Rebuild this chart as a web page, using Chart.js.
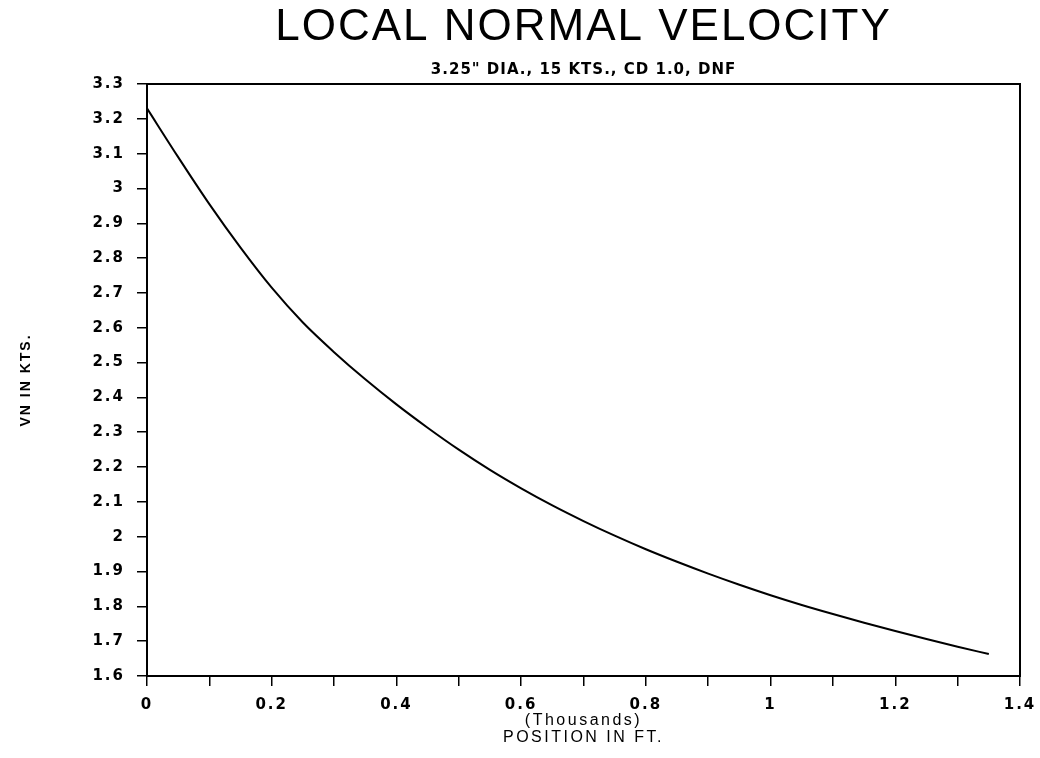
<!DOCTYPE html>
<html>
<head>
<meta charset="utf-8">
<script src="https://cdn.jsdelivr.net/npm/chart.js@4.4.1/dist/chart.umd.min.js"></script>
<style>
  html, body { margin: 0; padding: 0; background: #fff; }
  #wrap { width: 1040px; height: 758px; }
</style>
</head>
<body>
<div id="wrap"><canvas id="c" width="1040" height="758"></canvas></div>
<script>
// Data
const positionThousandsFt = [0.00, 0.05, 0.10, 0.15, 0.20, 0.25, 0.30, 0.35, 0.40, 0.45, 0.50, 0.55, 0.60, 0.65, 0.70, 0.75, 0.80, 0.85, 0.90, 0.95, 1.00, 1.05, 1.10, 1.15, 1.20, 1.25, 1.30, 1.35];
const vnKts = [3.23, 3.09, 2.955, 2.83, 2.715, 2.615, 2.53, 2.452, 2.38, 2.313, 2.25, 2.192, 2.139, 2.09, 2.045, 2.003, 1.964, 1.928, 1.894, 1.862, 1.832, 1.804, 1.778, 1.753, 1.729, 1.706, 1.684, 1.663];

const titleText = 'LOCAL NORMAL VELOCITY';
const subtitleText = '3.25" DIA., 15 KTS., CD 1.0, DNF';
const xTitleLines = ['(Thousands)', 'POSITION IN FT.'];
const yTitleText = 'VN IN KTS.';
const xMin = 0, xMax = 1.4, xStep = 0.1;
const yMin = 1.6, yMax = 3.3, yStep = 0.1;

const fmt = v => String(Math.round(v * 10) / 10);

const framePlugin = {
  id: 'frame',
  afterDraw(chart) {
    const {ctx, chartArea: a} = chart;
    ctx.save();
    ctx.strokeStyle = '#000';
    ctx.lineWidth = 2;
    ctx.strokeRect(a.left, a.top, a.right - a.left, a.bottom - a.top);
    ctx.restore();
  }
};

// Applies letter spacing to individual text elements when they are drawn
const spacingPlugin = {
  id: 'spacing',
  afterLayout(chart) {
    const wrap = (obj, method, sp) => {
      if (!obj || obj['__w_' + method]) return;
      const orig = obj[method];
      obj[method] = function (...args) {
        const ctx = chart.ctx;
        const prev = ctx.letterSpacing;
        ctx.letterSpacing = sp;
        try { return orig.apply(this, args); } finally { ctx.letterSpacing = prev; }
      };
      obj['__w_' + method] = true;
    };
    chart.boxes.forEach(b => {
      if (b.options && b.options.text === titleText && !b.axis) wrap(b, 'draw', '2px');
      else if (b.options && b.options.text === subtitleText && !b.axis) wrap(b, 'draw', '1px');
    });
    wrap(chart.scales.x, 'drawLabels', '2px');
    wrap(chart.scales.y, 'drawLabels', '2px');
    wrap(chart.scales.x, 'drawTitle', '2.5px');
    wrap(chart.scales.y, 'drawTitle', '2px');
  }
};

new Chart(document.getElementById('c'), {
  type: 'line',
  data: {
    datasets: [{
      data: positionThousandsFt.map((x, i) => ({x, y: vnKts[i]})),
      borderColor: '#000',
      borderWidth: 2,
      pointRadius: 0,
      fill: false,
      cubicInterpolationMode: 'monotone'
    }]
  },
  plugins: [framePlugin, spacingPlugin],
  options: {
    responsive: false,
    animation: false,
    layout: { padding: { left: 0, right: 20, top: 0, bottom: 0 } },
    plugins: {
      legend: { display: false },
      tooltip: { enabled: false },
      title: {
        display: true,
        fullSize: false,
        text: titleText,
        color: '#000',
        font: { family: '"Liberation Sans", Arial, sans-serif', size: 44, weight: 'normal', lineHeight: 1 },
        padding: { top: 6, bottom: 0 }
      },
      subtitle: {
        display: true,
        fullSize: false,
        text: subtitleText,
        color: '#000',
        font: { family: '"DejaVu Sans", sans-serif', size: 15, weight: 'bold', lineHeight: 1 },
        padding: { top: 13, bottom: 6 }
      }
    },
    scales: {
      x: {
        type: 'linear',
        min: xMin, max: xMax,
        afterFit(scale) { scale.height = 82; scale.paddingRight = 0; scale.paddingLeft = 0; },
        border: { display: true, color: '#000', width: 2 },
        grid: { drawOnChartArea: false, drawTicks: true, tickLength: 10, color: '#000', lineWidth: 1.5 },
        ticks: {
          stepSize: xStep,
          color: '#000',
          padding: 10,
          maxRotation: 0,
          autoSkip: false,
          font: { family: '"DejaVu Sans", sans-serif', size: 15, weight: 'bold' },
          callback: (v) => (Math.round(v * 10) % 2 === 0 ? fmt(v) : '')
        },
        title: {
          display: true,
          text: xTitleLines,
          color: '#000',
          font: { family: '"Liberation Sans", Arial, sans-serif', size: 16, weight: 'normal', lineHeight: 1.05 },
          padding: { top: 0, bottom: 12 }
        }
      },
      y: {
        type: 'linear',
        min: yMin, max: yMax,
        afterFit(scale) { scale.width = 147; },
        border: { display: true, color: '#000', width: 2 },
        grid: { drawOnChartArea: false, drawTicks: true, tickLength: 10, color: '#000', lineWidth: 1.5 },
        ticks: {
          stepSize: yStep,
          color: '#000',
          padding: 12,
          autoSkip: false,
          font: { family: '"DejaVu Sans", sans-serif', size: 15, weight: 'bold' },
          callback: (v) => fmt(v)
        },
        title: {
          display: true,
          text: yTitleText,
          color: '#000',
          font: { family: '"Liberation Sans", Arial, sans-serif', size: 14, weight: 'bold' },
          padding: { top: 18, bottom: 0 }
        }
      }
    }
  }
});
</script>
</body>
</html>
